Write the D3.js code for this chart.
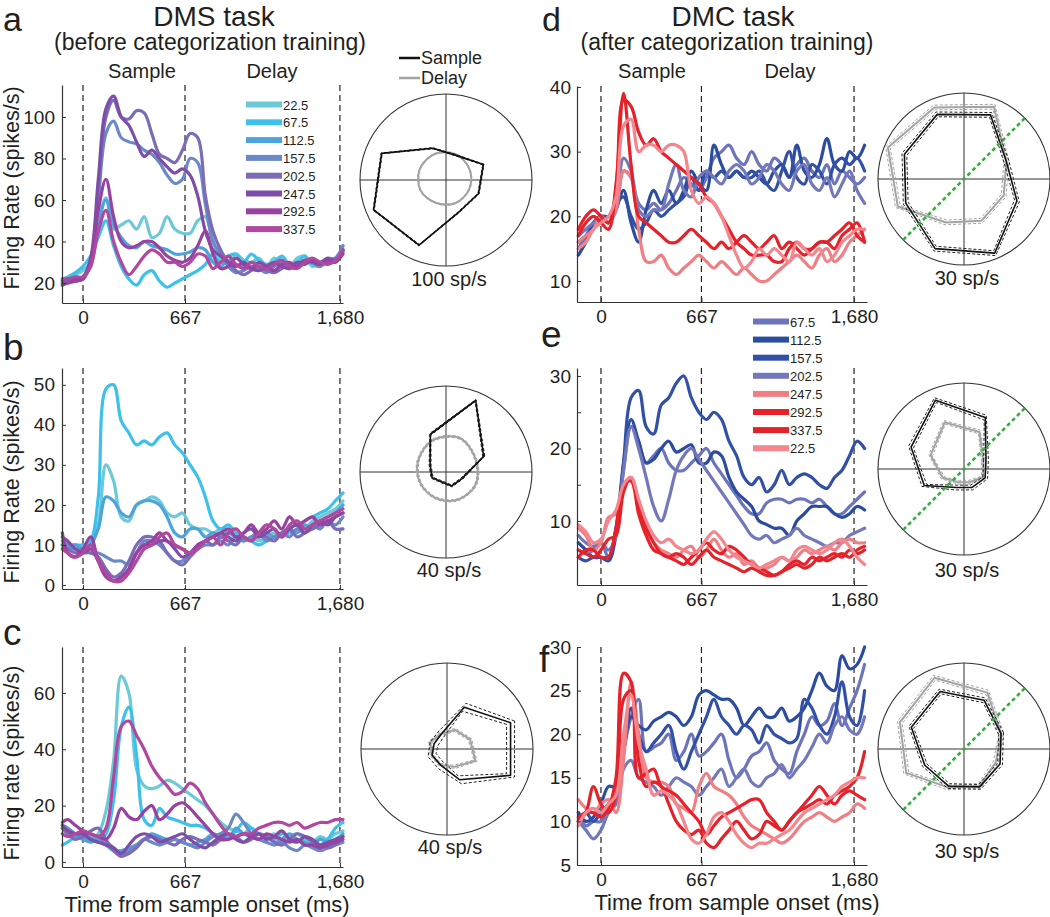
<!DOCTYPE html>
<html><head><meta charset="utf-8">
<script src="https://cdn.jsdelivr.net/npm/d3@7"></script>
<style>
body{margin:0;background:#fff}
svg{display:block}
text{font-family:"Liberation Sans",Arial,Helvetica,sans-serif;fill:#231f20}
</style></head>
<body><svg id="fig" width="1050" height="917"></svg>
<script>
// ---------------- DATA ----------------
const timesDMS = [-135,-100,-50,0,50,100,150,200,250,300,350,400,450,500,550,600,650,700,750,800,850,900,950,1000,1050,1100,1150,1200,1250,1300,1350,1400,1450,1500,1550,1600,1650,1700];
const timesDMC = [-150,-100,-50,0,50,100,150,200,250,300,350,400,450,500,550,600,650,700,750,800,850,900,950,1000,1050,1100,1150,1200,1250,1300,1350,1400,1450,1500,1550,1600,1650,1700,1750];
const xTickValues = [0, 667, 1680];

const dirLabelsDMS = ["22.5","67.5","112.5","157.5","202.5","247.5","292.5","337.5"];
const colorsDMS = ["#6cc9d6","#3dc0ec","#4da4dc","#6b89c9","#7a6cb7","#7c4ea7","#9742a0","#b1479e"];
const dirLabelsDMC = ["67.5","112.5","157.5","202.5","247.5","292.5","337.5","22.5"];
const colorsDMC = ["#6c74bc","#2b4c9f","#3250a5","#7378ba","#f07f84","#e8202a","#e3232a","#f4878e"];

// panel a (DMS, neuron 1)
const a22  = [21,22,24,26,30,48,61,46,48,50,46,52,42,44,52,46,44,44,50,52,40,32,30,34,31,30,32,28,32,30,28,32,33,28,30,31,30,38];
const a67  = [22,23,25,28,33,42,50,38,28,22,19,24,26,21,18,20,22,24,26,29,34,30,33,34,30,34,31,29,30,33,29,30,33,29,28,31,30,35];
const a112 = [20,21,22,23,28,48,60,48,42,38,37,40,38,37,36,34,34,35,37,36,30,28,31,29,28,30,29,27,30,31,28,29,31,30,29,31,32,36];
const a157 = [19,20,21,22,30,60,92,98,90,88,87,84,82,78,72,68,70,80,78,58,40,34,28,25,26,28,27,25,28,30,27,29,31,30,28,31,32,38];
const a202 = [20,21,21,22,30,65,100,108,100,99,103,102,92,82,80,78,84,92,90,62,45,36,30,26,24,26,28,26,25,27,29,28,30,31,29,30,31,35];
const a247 = [21,22,22,23,32,70,104,110,100,96,88,81,84,80,76,73,75,72,62,45,36,33,30,28,30,27,26,28,30,28,27,30,29,31,30,32,31,36];
const a292 = [19,20,21,22,30,55,70,52,40,37,38,40,40,37,33,31,30,32,38,45,34,27,28,32,29,27,30,28,26,29,30,28,31,30,29,31,30,34];
const a337 = [22,22,23,23,28,45,55,40,30,24,28,33,36,34,30,30,28,30,34,33,27,30,33,29,27,30,28,27,29,31,28,27,30,32,30,29,31,36];
// panel b
const b22  = [10,9,9,9,10,15,30,26,17,16,20,21,22,21,18,17,18,15,14,14,13,14,13,12,11,12,11,12,13,12,14,15,14,16,17,18,19,21];
const b67  = [10,10,10,10,11,22,49,50,41,38,35,36,35,37,38,35,33,30,27,22,16,14,15,13,12,11,10,11,12,13,13,14,16,17,18,19,21,23];
const b112 = [9,9,10,9,10,14,22,21,18,17,20,21,21,20,17,13,12,14,14,12,13,12,13,12,11,12,12,13,12,13,14,13,15,14,16,17,18,20];
const b157 = [11,10,9,9,8,8,7,6,6,5,8,11,11,10,8,6,6,8,9,10,10,11,10,12,11,12,13,11,12,13,12,14,13,15,14,16,15,17];
const b202 = [10,9,8,8,8,7,4,2,3,6,10,12,12,11,8,6,5,7,9,11,10,12,11,10,12,11,13,12,11,13,14,12,13,14,15,16,14,14];
const b247 = [12,11,9,8,9,6,3,1,2,4,8,10,10,11,11,9,7,8,10,11,12,13,12,11,13,14,12,13,14,12,14,15,13,15,16,15,17,18];
const b292 = [13,8,7,9,12,6,2,1,2,4,8,10,11,13,11,10,9,8,10,11,12,13,14,12,13,15,13,14,16,14,17,15,16,17,15,16,17,18];
const b337 = [9,8,7,8,10,6,3,1,1,3,6,9,10,12,13,10,9,8,9,11,12,10,13,14,12,11,13,15,14,12,15,16,14,15,16,17,18,19];
// panel c
const c22  = [12,11,10,9,8,10,18,36,66,60,33,27,26,27,29,28,26,24,22,20,17,14,12,11,10,12,10,9,10,8,9,10,8,7,9,8,10,11];
const c67  = [6,7,9,10,9,8,10,22,48,55,38,15,13,19,16,15,14,13,13,12,10,8,9,11,14,12,10,9,8,10,9,8,6,7,6,8,12,14];
const c112 = [12,11,9,8,7,8,6,4,4,5,6,8,10,9,8,8,7,6,7,8,10,9,8,12,10,9,8,9,7,8,10,8,7,6,8,7,8,10];
const c157 = [13,12,10,9,8,7,7,5,3,4,6,8,7,6,7,8,7,6,5,7,9,10,12,17,14,10,8,7,6,7,5,4,6,5,4,5,6,7];
const c202 = [12,10,8,9,11,12,8,4,2,3,5,8,9,8,7,6,8,9,8,7,6,8,10,9,7,8,10,9,7,6,8,10,9,7,6,5,6,9];
const c247 = [13,11,10,10,8,7,6,5,3,6,9,10,9,7,8,9,10,8,6,5,7,9,10,8,7,9,10,8,9,11,8,7,9,8,6,7,8,9];
const c292 = [14,15,13,11,10,9,8,12,19,16,15,18,20,15,17,20,21,19,16,13,10,8,8,9,10,9,8,10,9,8,7,8,6,6,5,6,7,8];
const c337 = [10,9,10,11,10,9,12,30,48,50,45,40,34,30,27,24,25,28,26,21,17,13,10,9,10,10,12,13,14,14,13,14,12,13,14,14,15,15];
// panel d (DMC)
const d67  = [15,17,19,20,19,21,27,26,22,21,22,21,22,24,26,25,24,26,29,30,31,29,28,30,28,27,29,28,26,28,29,27,26,28,25,27,26,25,26];
const d112 = [14,16,19,20,19,21,24,19,16,21,24,22,24,22,24,27,25,24,31,28,26,27,26,27,26,25,27,28,26,31,27,26,28,32,28,27,30,29,31];
const d157 = [16,17,18,20,20,22,23,20,18,19,21,20,21,22,23,26,24,27,26,27,26,27,26,26,27,25,24,27,30,26,25,28,27,25,28,29,28,29,27];
const d202 = [17,18,19,20,19,22,29,27,21,20,21,21,25,28,24,23,26,27,26,25,27,28,27,25,26,28,27,25,24,27,28,25,24,26,23,25,27,24,22];
const d247 = [16,17,18,20,19,21,27,26,18,13,13,14,12,11,12,13,14,13,12,13,12,11,12,11,10,10,11,12,13,14,13,12,14,15,13,14,16,17,18];
const d292 = [18,20,21,20,19,24,38,37,33,31,32,30,29,28,27,26,25,23,22,20,18,16,15,14,14,14,13,13,15,16,15,15,16,16,15,17,18,19,16];
const d337 = [17,19,20,19,18,25,39,28,20,19,18,17,16,16,17,18,17,16,15,16,15,16,17,16,15,16,17,15,16,15,14,15,16,16,17,18,19,17,16];
const d22  = [15,16,18,19,20,23,34,35,30,31,31,30,31,31,30,24,22,23,22,20,17,14,12,13,15,14,15,14,13,16,15,14,15,13,14,16,17,18,18];
// panel e
const e67  = [8,7,6.5,7,5,9,17,23,21,18,19,20,18,17,17,18,19,20,18,16.5,15,13.5,12,11,11,12.5,13,13,12.5,13,13,12.5,13,12,11,11,12,13,14];
const e112 = [7,6,5,5,5,9,18,24,21,18,18.5,20,21,19.5,20,20.5,18,18,19.5,19,16,14,13,12,10,9.5,9,9,8,10,11,12,12,12,11,10.5,11,12,11.5];
const e157 = [5,4.5,5,5,4.5,8,18,27,28,23,22,26,27,29,30,27,25,24,25,24,21,19,16,15,16,14,15,17,15,16,16.5,16,15,14.5,16,17,19,21,20];
const e202 = [6,5.5,6,7,6,8,17,23,20,16,12,10,13,17,19,20,18.5,17,15.5,14,12.5,11,9.5,8,7.5,8,7,7.5,8,9,8,7.5,7,6.5,7,7,8,8.5,9];
const e247 = [9,8,6,7,10.5,11,15,16,12,9,7,6,5.5,5,6,6.5,5,6,7.5,6,5,5.5,4,4.5,3.5,3.5,4,5,4.5,5,6,5.5,6,6.5,6,7,7.5,7,7];
const e292 = [5,6,6,5,5,9,15,15.5,11,8,6,5.5,5,4.5,4,5,6,7,6,5.5,6.5,6,5,4,3.5,3,2.5,3,4,4.5,4,5,4.5,5,5.5,5,6,5.5,6];
const e337 = [6,5.5,5,6,7.5,8,14,16,12,9,7,5.5,5,5.5,5,4,5,6,5,4.5,4,3.5,3,3.5,3,2.5,2.5,3,3.5,4,3.5,4,5,4.5,5,5.5,5,6,6.5];
const e22  = [9.5,8.5,7,7.5,10,11.5,15,16,13,10,8,7,7.5,6.5,6,5.5,6,7.5,8.5,7.5,6,5,4.5,4,3.5,4,4.5,5,4.5,6,6.5,6,5.5,6,7,7.5,6.5,5,4];
// panel f
const f67  = [11,9.5,10,10,12,13,18,22,24,18,18.5,19,20,17,18,20,17.5,18,19,20,17,15,16,17.5,18,19,17,16,15.5,18,20,22,21,21.5,23.5,21,23,25,28];
const f112 = [11,10,10.5,12,14,14,18,22,21,20.5,21.5,22,22.5,22,21,22,24.5,25,24.5,24,24,23,21,22,23,22,22,23,21.5,22,23,25,27,25.5,25,29,27.5,28,30];
const f157 = [10,11,10,11,12,13,18,23,20,18,19,20,21,18,16,18,20,22,24,22,21,20,21,20.5,19,21,20,19.5,19,19.5,24,23,21,20,22,26,22,21,25];
const f202 = [10,9,8,9,11,12,16,17,15,14.5,14,13,14,15,14.5,14,13,14,15,16,14,15,16,14.5,14,15,15.5,16.5,15,16,17,18.5,20,19,21,22,20.5,20,22];
const f247 = [12.5,11.5,11,12,12.5,11,17,26,20,15,14.5,14.5,14,12,11.5,11,14,15.5,14,13.5,13,12,10.5,9.5,9,8.5,8,7.5,8,9,10,10.5,11,10.5,10,10.5,11,12,11.5];
const f292 = [10.5,11,11,10.5,11.5,15,27,26,15,15.5,16,14,13.5,13,12,11,10,8.5,9.5,10.5,11,11.5,12,12.5,12.5,11,10,9,10,11,12,13,14,13,12,13,13.5,13,12.5];
const f337 = [10,11,14,12,11,13,24,25,17,14,14.5,14,12,10,9,8.5,9,7.5,7,8,9,10,9,8,8.5,10,9.5,9,10,11,11.5,12,12.5,12,13,13.5,14,15,18];
const f22  = [9.5,11,11.5,11,12,13,20,24.5,19,16,13,13.5,13,12,10,8,7.5,8.5,10.5,11,10,8.5,7.5,7,7.5,7.5,8,8.5,9,10,11,11.5,12,12.5,13,14,14.5,15,15];

// polar tuning curves (order = polarDirs)
const polarDirs = [22.5,67.5,112.5,157.5,202.5,247.5,292.5,337.5];
const polarSampleA = [47,31,40,81,91,82,40,41];
const polarDelayA  = [30,32,33,33,32,29,29,29];
const polarSampleB = [19,36,19,8,7,5,7,8];
const polarDelayB  = [15,17,16,14,13,13,14,15];
const polarSampleC = [32,21,7.3,6.5,7.5,8,15.5,32];
const polarDelayC  = [11.6,9.6,7.6,8.4,7.6,8,9,14.3];
const polarSampleD = [16,24.2,24.4,22.5,22,26.3,28,20];
const polarDelayD  = [16,27.3,27,28.7,25,16.4,15.8,15];
const polarSampleE = [8.3,19.4,26,20,15,7,7,8];
const polarDelayE  = [7.3,14,17.6,12.6,8,5,5,7.3];
const polarSampleF = [14,18.4,21.7,19.9,14.8,14,14.3,13.6];
const polarDelayF  = [14,21.3,26.9,24.2,21.8,14.5,14,12];
const polarScaleLabels = ["100 sp/s","40 sp/s","40 sp/s","30 sp/s","30 sp/s","30 sp/s"];
const polarMax = [100,40,40,30,30,30];
const polarSem = [[0.8,0.6],[0.5,0.5],[2,0.8],[0.9,0.9],[0.9,0.7],[0.9,0.9]];
const categoryBoundary = 45;

// ---------------- DRAW ----------------
const svg = d3.select("#fig");
const FONT = '"Liberation Sans",Arial,Helvetica,sans-serif';
const INK = "#231f20";

const panels = [
  {series:[a22,a67,a112,a157,a202,a247,a292,a337], times:timesDMS, colors:colorsDMS,
   xr:[62,343], xd:[-137.3,1700], yr:[303,85], yd:[10.4,115.4], yt:[20,40,60,80,100], lab:[20,40,60,80,100]},
  {series:[b22,b67,b112,b157,b202,b247,b292,b337], times:timesDMS, colors:colorsDMS,
   xr:[62,343], xd:[-137.3,1700], yr:[589,368], yd:[-1,54.2], yt:[0,10,20,30,40,50], lab:[0,10,20,30,40,50]},
  {series:[c22,c67,c112,c157,c202,c247,c292,c337], times:timesDMS, colors:colorsDMS,
   xr:[62,343], xd:[-137.3,1700], yr:[867,647], yd:[-1.8,76.3], yt:[0,20,40,60], lab:[0,20,40,60]},
  {series:[d67,d112,d157,d202,d247,d292,d337,d22], times:timesDMC, colors:colorsDMC,
   xr:[577,867], xd:[-159,1766], yr:[302,86], yd:[6.75,40.15], yt:[10,20,30,40], lab:[10,20,30,40]},
  {series:[e67,e112,e157,e202,e247,e292,e337,e22], times:timesDMC, colors:colorsDMC,
   xr:[577,867], xd:[-159,1766], yr:[585,368], yd:[1.17,31.1], yt:[10,15,20,25,30], lab:[10,20,30]},
  {series:[f67,f112,f157,f202,f247,f292,f337,f22], times:timesDMC, colors:colorsDMC,
   xr:[577,867], xd:[-159,1766], yr:[865,647], yd:[5,30], yt:[5,10,15,20,25,30], lab:[5,10,15,20,25,30]}
];

function styleAxis(g){
  g.attr("font-family", FONT).attr("font-size", 19);
  g.select(".domain").attr("stroke","#333").attr("stroke-width",1.2);
  g.selectAll(".tick line").attr("stroke","#333");
  g.selectAll(".tick text").attr("fill", INK);
}

panels.forEach(p => {
  const x = d3.scaleLinear().domain(p.xd).range(p.xr);
  const y = d3.scaleLinear().domain(p.yd).range(p.yr);
  const g = svg.append("g");
  xTickValues.forEach(t => {
    g.append("line").attr("x1",x(t)).attr("x2",x(t)).attr("y1",p.yr[1]).attr("y2",p.yr[0])
     .attr("stroke","#222").attr("stroke-width",1.2).attr("stroke-dasharray","6,4");
  });
  const line = d3.line().x((d,i)=>x(p.times[i])).y(d=>y(d)).curve(d3.curveCatmullRom.alpha(0.5));
  p.series.forEach((s,k)=>{
    g.append("path").attr("d", line(s)).attr("fill","none")
     .attr("stroke", p.colors[k]).attr("stroke-width",3.2)
     .attr("stroke-linejoin","round").attr("stroke-linecap","round");
  });
  const xa = d3.axisBottom(x).tickValues(xTickValues).tickFormat(d3.format(","))
     .tickSizeInner(-4).tickSizeOuter(0).tickPadding(8);
  g.append("g").attr("transform",`translate(0,${p.yr[0]})`).call(xa).call(styleAxis);
  const ya = d3.axisLeft(y).tickValues(p.yt).tickFormat(d => p.lab.includes(d) ? d : "")
     .tickSizeInner(-4).tickSizeOuter(0).tickPadding(p.xr[0] < 300 ? 7 : 6);
  g.append("g").attr("transform",`translate(${p.xr[0]},0)`).call(ya).call(styleAxis);
});

// text helpers
function txt(x,y,s,size,anchor){
  return svg.append("text").attr("x",x).attr("y",y).attr("font-size",size)
    .attr("text-anchor",anchor||"start").text(s);
}
// titles
txt(214,26,"DMS task",28,"middle");
txt(210,50,"(before categorization training)",23,"middle");
txt(733,26,"DMC task",28,"middle");
txt(727,50,"(after categorization training)",23,"middle");
// panel letters
txt(3,31,"a",34); txt(3,360,"b",37); txt(3,645,"c",37);
txt(542,31,"d",34); txt(541,347,"e",37); txt(539,672,"f",37);
// period labels
txt(142,78,"Sample",20,"middle"); txt(272,78,"Delay",20,"middle");
txt(652,78,"Sample",20,"middle"); txt(790,78,"Delay",20,"middle");
// y axis titles
[["Firing Rate (spikes/s)",188],["Firing Rate (spikes/s)",482],["Firing rate (spikes/s)",763]].forEach(([s,cy])=>{
  svg.append("text").attr("transform",`translate(19,${cy}) rotate(-90)`).attr("text-anchor","middle")
     .attr("font-size",21.5).text(s);
});
// x axis titles
txt(207,912,"Time from sample onset (ms)",22,"middle");
txt(737,910,"Time from sample onset (ms)",22,"middle");

// legends
function legend(x0, y0, dy, labels, colors){
  labels.forEach((l,i)=>{
    const yy = y0 + i*dy;
    svg.append("rect").attr("x",x0).attr("y",yy-3).attr("width",36).attr("height",6).attr("fill",colors[i]);
    txt(x0+37, yy+5, l, 13, "start");
  });
}
legend(246,104.5,17.8,dirLabelsDMS,colorsDMS);
legend(753,321.5,18.1,dirLabelsDMC,colorsDMC);

// polar plots
const polarPanels = [
  {cx:446,cy:180,s:polarSampleA,d:polarDelayA,ly:286,bound:false,round:true},
  {cx:446,cy:472,s:polarSampleB,d:polarDelayB,ly:577,bound:false,round:true},
  {cx:447,cy:749,s:polarSampleC,d:polarDelayC,ly:854,bound:false,round:false},
  {cx:964,cy:179,s:polarSampleD,d:polarDelayD,ly:285,bound:true,round:false},
  {cx:964,cy:469,s:polarSampleE,d:polarDelayE,ly:577,bound:true,round:false},
  {cx:964,cy:749,s:polarSampleF,d:polarDelayF,ly:858,bound:true,round:false}
];
const R = 86;
polarPanels.forEach((pp,k)=>{
  const g = svg.append("g").attr("transform",`translate(${pp.cx},${pp.cy})`);
  const r = d3.scaleLinear().domain([0,polarMax[k]]).range([0,R]);
  g.append("circle").attr("r",R).attr("fill","none").attr("stroke","#333").attr("stroke-width",1.1);
  g.append("line").attr("x1",-R).attr("x2",R).attr("y1",0).attr("y2",0).attr("stroke","#333").attr("stroke-width",1);
  g.append("line").attr("y1",-R).attr("y2",R).attr("x1",0).attr("x2",0).attr("stroke","#333").attr("stroke-width",1);
  const mk = curve => d3.lineRadial()
    .angle((v,i)=> (90 - polarDirs[i]) * Math.PI/180)
    .radius(v=> r(v)).curve(curve);
  const radial = mk(d3.curveLinearClosed);
  const radialD = pp.round ? mk(d3.curveCatmullRomClosed.alpha(0.5)) : radial;
  const draw = (gen, vals, color, w, dash) => g.append("path").attr("d", gen(vals)).attr("fill","none")
      .attr("stroke",color).attr("stroke-width",w).attr("stroke-dasharray",dash||null).attr("stroke-linejoin","round");
  const [semS, semD] = polarSem[k];
  const gray = "#a3a3a3";
  draw(radialD, pp.d.map(v=>v+semD), gray, 1, "3,2");
  draw(radialD, pp.d.map(v=>Math.max(0,v-semD)), gray, 1, "3,2");
  draw(radialD, pp.d, gray, 2);
  draw(radial, pp.s.map(v=>v+semS), "#222", 1, "3,2");
  draw(radial, pp.s.map(v=>Math.max(0,v-semS)), "#222", 1, "3,2");
  draw(radial, pp.s, "#111", 1.6);
  if (pp.bound){
    const a = categoryBoundary*Math.PI/180;
    g.append("line").attr("x1",-R*Math.cos(a)).attr("y1",R*Math.sin(a))
      .attr("x2",R*Math.cos(a)).attr("y2",-R*Math.sin(a))
      .attr("stroke","#33b03a").attr("stroke-width",2.6).attr("stroke-dasharray","4,3");
  }
  txt(pp.cx+3, pp.ly, polarScaleLabels[k], 20, "middle");
});
// polar legend
svg.append("line").attr("x1",399).attr("x2",420).attr("y1",58).attr("y2",58).attr("stroke","#111").attr("stroke-width",2.5);
svg.append("line").attr("x1",399).attr("x2",420).attr("y1",78).attr("y2",78).attr("stroke","#a3a3a3").attr("stroke-width",2.5);
txt(421,64,"Sample",18,"start");
txt(421,84,"Delay",18,"start");
</script></body></html>
